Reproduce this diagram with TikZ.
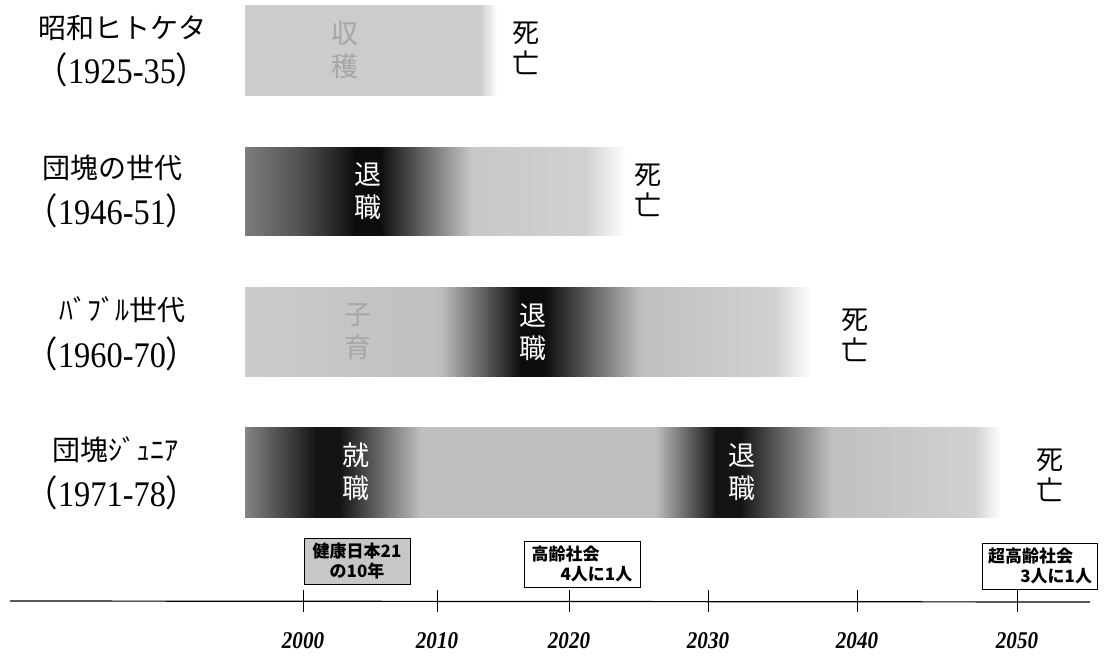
\documentclass[tikz,border=0pt]{standalone}
\usepackage{fontspec}
\setmainfont{Liberation Serif}
\newfontfamily\jp{Noto Sans CJK JP}
\newcommand{\seg}[4]{\shade[left color=#3,right color=#4] (#1,-20) rectangle (#2,700);}
\newcommand{\yrtxt}[1]{{\jp （}#1{\jp ）}}
\begin{document}
\begin{tikzpicture}[x=1pt,y=-1pt,
  gen/.style={font=\jp\fontsize{28}{30}\selectfont, inner sep=0pt},
  yrs/.style={font=\fontsize{36}{38}\selectfont, xscale=0.9, inner sep=0pt},
  bartxt/.style={font=\jp\fontsize{27}{33}\selectfont, align=center, inner sep=0pt, text=white},
  fainttxt/.style={bartxt, text=black!35},
  death/.style={font=\jp\fontsize{27}{31}\selectfont, align=center, inner sep=0pt},
  axyear/.style={font=\bfseries\itshape\fontsize{24}{26}\selectfont, xscale=0.88, inner sep=0pt},
  note/.style={draw=black, line width=0.9pt, font=\jp\bfseries\fontsize{17}{20}\selectfont, inner sep=0pt, minimum height=46pt},
  axis/.style={line width=1.2pt},
  tick/.style={line width=0.9pt}]
\useasboundingbox (0,0) rectangle (1114,661);

% ---------- generation labels ----------
\node[gen] (g1) at (122,28) {昭和ヒトケタ};
\node[yrs] (y1) at (122,70) {\yrtxt{1925-35}};
\node[gen] (g2) at (112,168) {団塊の世代};
\node[yrs] (y2) at (112,211) {\yrtxt{1946-51}};
\node[gen] (g3) at (122,310) {ﾊﾞﾌﾞﾙ世代};
\node[yrs] (y3) at (112,354) {\yrtxt{1960-70}};
\node[gen] (g4) at (115,450) {団塊ｼﾞｭﾆｱ};
\node[yrs] (y4) at (112,493) {\yrtxt{1971-78}};

% ---------- bar 1 ----------
\begin{scope}
\clip (245,6) rectangle (497,95);
\seg{240}{481}{black!20}{black!20}
\seg{480}{497}{black!20}{white}
\end{scope}
\node[fainttxt] (b1t) at (345,50) {収\\穫};
\node[death] (d1) at (526,48) {死\\亡};

% ---------- bar 2 ----------
\begin{scope}
\clip (245,147) rectangle (625,235);
\seg{240}{301}{black!50}{black!68}
\seg{300}{356}{black!68}{black!95}
\seg{355}{381}{black!95}{black!95}
\seg{380}{471}{black!95}{black!22}
\seg{470}{586}{black!22}{black!18}
\seg{585}{626}{black!18}{white}
\end{scope}
\node[bartxt] (b2t) at (368,191) {退\\職};
\node[death] (d2) at (648,190) {死\\亡};

% ---------- bar 3 ----------
\begin{scope}
\clip (245,287) rectangle (810,376);
\seg{240}{441}{black!20}{black!25}
\seg{440}{521}{black!25}{black!95}
\seg{520}{546}{black!95}{black!95}
\seg{545}{641}{black!95}{black!25}
\seg{640}{776}{black!25}{black!18}
\seg{775}{811}{black!18}{white}
\end{scope}
\node[fainttxt] (b3t) at (358,332) {子\\育};
\node[bartxt] (b3r) at (533,332) {退\\職};
\node[death] (d3) at (855,335) {死\\亡};

% ---------- bar 4 ----------
\begin{scope}
\clip (245,427) rectangle (1000,517);
\seg{240}{316}{black!45}{black!92}
\seg{315}{341}{black!92}{black!92}
\seg{340}{421}{black!92}{black!25}
\seg{420}{656}{black!25}{black!25}
\seg{655}{716}{black!25}{black!92}
\seg{715}{741}{black!92}{black!92}
\seg{740}{831}{black!92}{black!25}
\seg{830}{976}{black!25}{black!18}
\seg{975}{1001}{black!18}{white}
\end{scope}
\node[bartxt] (b4a) at (356,472) {就\\職};
\node[bartxt] (b4b) at (742,472) {退\\職};
\node[death] (d4) at (1050,475) {死\\亡};

% ---------- time axis ----------
\coordinate (al) at (10,601);
\coordinate (ar) at (1090,602);
\draw[axis] (al) -- (ar);
\foreach \x/\yr in {303/2000,437/2010,569/2020,708/2030,857/2040,1017/2050}{
  \coordinate (t\yr) at (\x,601);
  \draw[tick] ([yshift=-11pt]t\yr) -- ([yshift=11pt]t\yr);
  \node[axyear] (l\yr) at (\x,641) {\yr};
}

% ---------- notes ----------
\node[note, fill=black!22, minimum width=106pt, align=center] (n1) at (357,561) {健康日本21\\の10年};
\node[note, fill=white, minimum width=116pt, align=left] (n2) at (582,564) {高齢社会\\\hspace*{1.7em}4人に1人};
\node[note, fill=white, minimum width=115pt, align=left] (n3) at (1040,566) {超高齢社会\\\hspace*{1.9em}3人に1人};
\end{tikzpicture}
\end{document}
